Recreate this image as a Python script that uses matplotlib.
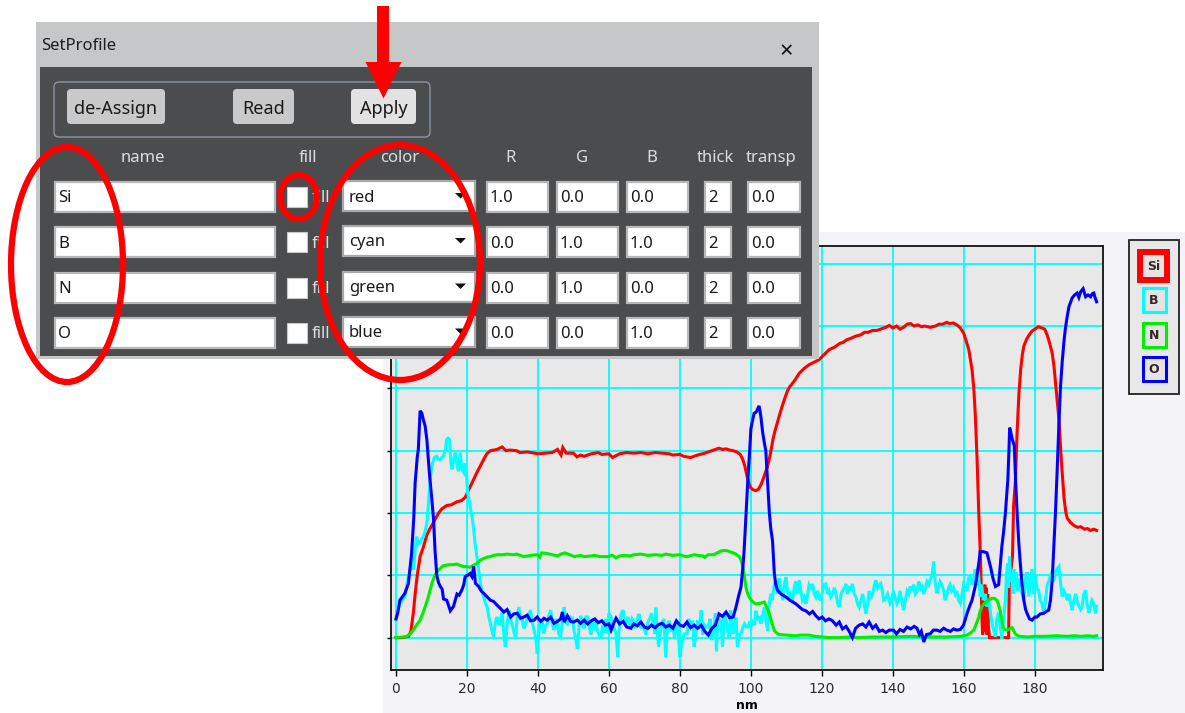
import matplotlib
matplotlib.use('Agg')
import matplotlib.pyplot as plt
from matplotlib.patches import Rectangle, FancyBboxPatch, Ellipse, Polygon

# ---- depth profile data (x in nm, y in grid units) ----
si_profile = [(0,0),(2,0),(3.5,0.02),(4.2,0.1),(4.9,0.4),(5.4,0.7),(6.0,1.0),(6.8,1.3),(7.7,1.45),(8.7,1.65),
    (9.6,1.75),(10.6,1.85),(12.0,2.0),(13.0,2.07),(14.3,2.12),(15.5,2.13),(17.2,2.18),(18.5,2.2),(19.5,2.25),
    (20.9,2.42),(22.0,2.55),(22.8,2.65),(24.0,2.78),(24.7,2.86),(25.6,2.95),(26.6,3.0),(27.5,3.01),(28.5,3.02),
    (29.9,3.06),(31,3.0),(32,3.01),(34,3.0),(35,2.97),(37,2.98),(39,2.96),(40,2.95),(42,2.96),(44,2.97),
    (45.5,3.02),(46.5,2.93),(47,3.05),(48,2.96),(50,2.96),(51,2.9),(52,2.93),(53,2.91),(55,2.95),(57,2.97),
    (58,2.94),(60,2.95),(61,2.89),(62,2.92),(63,2.95),(65,2.97),(67,2.96),(69,2.97),(71,2.95),(73,2.97),
    (75,2.96),(77,2.95),(78,2.93),(80,2.94),(81,2.91),(82,2.9),(83,2.89),(84,2.91),(85,2.93),(87,2.96),
    (89,3.0),(90,3.02),(91,3.04),(92,3.02),(93,3.03),(94,3.01),(95,3.0),(96,2.98),(97,2.94),(97.7,2.86),
    (98.3,2.75),(98.8,2.62),(99.4,2.48),(100,2.4),(100.7,2.37),(101.4,2.36),(102.1,2.38),(102.8,2.45),
    (103.3,2.52),(103.8,2.6),(104.4,2.7),(105,2.82),(105.6,2.98),(106.2,3.18),(106.8,3.32),(107.5,3.46),
    (108.2,3.6),(108.9,3.73),(109.6,3.85),(110.3,3.96),(111,4.03),(111.7,4.08),(112.6,4.15),(113.6,4.24),
    (115,4.32),(116.4,4.38),(117.8,4.42),(119.2,4.46),(120.6,4.54),(122,4.62),(123.5,4.66),(125,4.72),
    (126,4.74),(127,4.78),(128,4.8),(129.6,4.84),(131,4.86),(132,4.9),(133,4.9),(134.3,4.93),(135.5,4.93),
    (136.5,4.95),(138,4.98),(139,5.01),(140,4.97),(141,5.0),(142,4.95),(143,4.98),(144,5.03),(145,5.04),
    (146,5.0),(147,5.02),(148,4.99),(149,5.0),(150.5,4.98),(152,5.0),(153,5.03),(154,5.03),(155.2,5.06),
    (156,5.04),(157,5.05),(158,5.02),(159,4.97),(160,4.88),(160.7,4.75),(161.4,4.62),(162.3,4.3),(162.8,4.0),
    (163.2,3.6),(163.7,2.9),(164.2,2.0),(164.6,1.4),(164.9,0.8),(165.1,0.3),(165.3,0.05),(165.5,0.6),
    (165.7,0.2),(165.9,0.85),(166.1,0.1),(166.3,0.8),(166.5,0.05),(166.7,0.7),(166.9,0.2),(167.2,0.0),
    (169,0.0),(171,0.0),(172.6,0.0),(172.8,0.9),(173.3,1.1),(173.7,1.3),(174.0,2.1),(174.5,2.5),(175.0,3.3),
    (175.5,3.9),(176.0,4.3),(176.5,4.55),(176.9,4.68),(177.6,4.78),(178.3,4.85),(179.2,4.92),(180.2,4.96),
    (181,4.99),(182,4.97),(182.8,4.95),(183.5,4.85),(184.2,4.72),(184.9,4.56),(185.4,4.35),(185.8,4.1),
    (186.3,3.8),(186.8,3.5),(187.2,3.1),(187.5,2.8),(187.9,2.5),(188.2,2.25),(188.7,2.02),(189.1,1.92),
    (190,1.85),(191,1.8),(192,1.77),(192.9,1.78),(194,1.74),(194.8,1.75),(195.7,1.72),(196.6,1.74),(197.4,1.72)]

b_profile = [(0,0.28),(0.5,0.42),(1.1,0.55),(1.8,0.6),(2.5,0.66),(3.0,0.8),(3.5,0.98),(4.0,1.1),(4.4,1.3),
    (4.9,1.09),(5.4,1.4),(5.8,1.62),(6.3,1.5),(6.8,1.52),(7.2,1.58),(7.7,1.62),(8.2,1.7),(8.7,1.84),(9.1,2.1),
    (9.6,2.54),(10.1,2.75),(10.6,2.86),(11.0,2.9),(11.5,2.91),(12.0,2.86),(12.5,2.86),(13.0,2.9),(13.4,2.92),
    (13.9,3.0),(14.3,3.18),(14.7,3.2),(15.1,3.18),(15.5,2.8),(15.8,2.7),(16.2,2.85),(16.7,2.97),(17.1,2.8),
    (17.6,2.67),(18.1,2.97),(18.6,2.7),(19.1,2.65),(19.5,2.8),(19.9,2.6),(20.2,2.32),(20.5,2.25),(20.9,2.11),
    (21.4,1.95),(21.9,1.73),(22.3,1.5),(22.8,1.3),(23.3,1.08),(23.8,0.87),(24.2,0.75),(24.7,0.66),(25.2,0.55),
    (25.7,0.49),(26.1,0.35),(26.6,0.23),(27.0,0.12),(27.5,0.01),(28.0,0.25),(28.5,0.33),(29.0,0.2),(29.4,0.27),
    (29.9,0.4),(30.4,0.05),(30.8,-0.15),(31.3,0.2),(31.8,0.44),(32.3,0.3),(32.7,0.22),(33.2,0.1),(33.7,-0.02),
    (34.1,0.3),(34.6,0.49),(35.1,0.3),(35.6,0.28),(36.0,0.15),(36.5,0.22),(37.0,0.3),(37.5,0.38),(37.9,0.44),
    (38.4,0.25),(38.9,0.12),(39.4,0.0),(39.8,-0.26),(40.3,0.1),(40.8,0.22),(41.2,0.25),(41.7,0.06),(42.2,0.2),
    (42.6,0.22),(43.1,0.35),(43.6,0.44),(44.0,0.25),(44.5,0.12),(45.0,0.3),(45.5,0.22),(45.9,0.05),(46.4,0.01),
    (46.9,0.3),(47.4,0.49),(47.8,0.25),(48.3,0.22),(48.8,0.35),(49.2,0.28),(49.7,0.33),(50.2,0.1),(50.6,0.0),
    (51.1,-0.18),(51.6,0.2),(52.0,0.35),(52.5,0.22),(53.0,0.15),(53.5,0.33),(54.0,0.33),(54.4,0.2),(54.9,0.05),
    (55.4,0.28),(55.8,0.12),(56.3,0.25),(56.8,0.1),(57.2,0.05),(57.7,-0.02),(58.2,0.2),(58.6,0.08),(59.1,0.3),
    (59.6,0.07),(60.0,0.39),(60.6,0.33),(61.0,0.2),(61.5,0.15),(62.0,0.06),(62.5,-0.31),(62.8,0.1),(63.4,0.38),
    (64.0,0.44),(64.5,0.2),(65.0,0.25),(65.3,0.33),(65.7,0.27),(66.0,0.17),(66.5,0.3),(67,0.25),(67.5,0.15),
    (68,0.3),(68.5,0.38),(69,0.15),(69.5,0.2),(70,0.14),(70.4,0.05),(71,0.25),(71.5,0.3),(72,0.39),(72.5,0.2),
    (73,0.06),(73.2,0.48),(73.6,0.1),(74,-0.15),(74.5,0.1),(75,0.25),(75.5,0.3),(76,-0.32),(76.5,0.2),(77,0.27),
    (77.5,0.1),(78,0.17),(78.5,0.0),(79,0.25),(79.5,0.1),(80,-0.31),(80.5,-0.1),(81.2,0.06),(82,0.06),
    (82.5,0.3),(83,0.2),(83.6,0.27),(84,-0.15),(84.5,0.05),(85,0.28),(85.5,0.15),(86,0.44),(86.4,0.05),(87,0.2),
    (87.5,0.17),(88,0.17),(88.5,0.3),(89,-0.04),(89.5,0.1),(90,0.39),(90.3,-0.22),(90.6,0.2),(91,0.12),
    (91.5,0.3),(92,-0.15),(92.5,0.38),(93,0.28),(93.5,0.1),(93.9,0.0),(94.3,0.44),(95,0.06),(95.4,0.2),
    (95.8,0.32),(96.2,-0.15),(96.8,0.05),(97.2,0.06),(97.7,0.16),(98.2,0.22),(98.7,0.17),(99.2,0.17),(99.5,0.22),
    (100,0.17),(100.5,0.25),(101,0.2),(101.4,0.43),(102,0.3),(102.5,0.32),(102.8,0.22),(103.3,0.35),(103.8,0.49),
    (104.2,0.3),(104.7,0.11),(105.1,0.5),(105.6,0.7),(106,0.6),(106.5,0.82),(107,0.92),(107.5,0.7),(108,0.95),
    (108.4,0.8),(109,0.6),(109.4,0.85),(109.9,0.97),(110.3,0.75),(110.8,0.65),(111.2,0.7),(111.7,0.59),
    (112.2,0.8),(112.6,0.9),(113.1,0.7),(113.6,0.92),(114.1,0.75),(114.5,0.6),(115,0.65),(115.5,0.54),(116,0.7),
    (116.4,0.85),(116.9,0.8),(117.4,0.86),(117.9,0.7),(118.3,0.65),(118.8,0.75),(119.2,0.65),(119.7,0.59),
    (120.2,0.75),(120.6,0.85),(121.1,0.86),(121.6,0.7),(122,0.75),(122.5,0.65),(123,0.7),(123.5,0.8),(124,0.7),
    (124.4,0.55),(124.9,0.49),(125.4,0.7),(125.8,0.75),(126.3,0.8),(126.8,0.86),(127.2,0.7),(127.7,0.8),
    (128.1,0.78),(128.6,0.86),(129.1,0.7),(129.6,0.65),(130,0.55),(130.5,0.49),(131,0.6),(131.5,0.7),(131.9,0.55),
    (132.4,0.38),(132.9,0.55),(133.3,0.75),(133.8,0.65),(134.3,0.7),(134.8,0.85),(135.2,0.92),(135.7,0.8),
    (136.2,0.85),(136.6,0.87),(137,0.75),(137.4,0.6),(137.8,0.62),(138.5,0.7),(139.2,0.55),(139.6,0.6),
    (140.2,0.75),(140.6,0.65),(141.1,0.55),(141.5,0.6),(142,0.75),(142.5,0.6),(143,0.44),(143.5,0.6),(144,0.75),
    (144.5,0.7),(144.9,0.82),(145.4,0.75),(145.9,0.85),(146.3,0.7),(146.8,0.74),(147.3,0.9),(147.8,0.8),
    (148.2,0.85),(148.7,0.7),(149.2,0.8),(149.6,0.9),(150.1,0.85),(150.5,0.93),(151,1.0),(151.5,1.22),(151.9,0.9),
    (152.4,0.71),(152.9,0.8),(153.3,0.9),(153.8,0.85),(154.3,0.75),(154.7,0.6),(155.2,0.68),(155.7,0.8),
    (156.1,0.85),(156.6,0.75),(157.1,0.8),(157.6,0.7),(158,0.75),(158.5,0.6),(159,0.55),(159.5,0.7),(159.9,0.85),
    (160.4,0.8),(160.9,0.75),(161.3,0.95),(161.8,0.98),(162.3,0.85),(162.7,0.9),(163.2,1.1),(163.6,0.85),
    (164.1,1.05),(164.6,0.66),(165.0,0.85),(165.5,0.6),(166,0.7),(166.5,0.5),(167,0.6),(167.5,0.39),(168,0.2),
    (168.5,0.1),(168.9,0.01),(169.3,0.3),(169.8,0.4),(170.2,0.2),(170.7,-0.02),(171.2,0.3),(171.7,0.6),(172,1.0),
    (172.3,1.19),(172.6,0.8),(172.9,1.3),(173.2,0.9),(173.6,1.0),(173.8,0.7),(174.1,1.1),(174.4,0.8),(174.7,1.05),
    (175,0.75),(175.4,0.95),(175.9,0.85),(176.4,0.7),(176.9,0.6),(177.4,0.95),(177.8,1.05),(178.3,0.66),
    (178.8,0.9),(179.2,1.1),(179.7,0.7),(180.1,1.0),(180.6,0.8),(181.1,0.75),(181.5,0.6),(182,0.55),(182.5,0.39),
    (183,0.6),(183.5,0.85),(183.9,0.9),(184.4,1.0),(184.9,1.05),(185.3,0.9),(185.8,1.05),(186.3,1.1),(186.8,1.14),
    (187.2,0.9),(187.7,0.66),(188.2,0.75),(188.6,0.7),(189.1,0.6),(189.6,0.7),(190.1,0.55),(190.5,0.44),(191,0.6),
    (191.5,0.7),(191.9,0.6),(192.4,0.5),(192.9,0.45),(193.3,0.5),(193.8,0.7),(194.3,0.76),(194.7,0.55),
    (195.2,0.4),(195.7,0.5),(196.1,0.6),(196.6,0.55),(197.1,0.39),(197.4,0.5)]

n_profile = [(0,0),(2,0.01),(3,0.02),(4,0.06),(4.9,0.12),(5.8,0.2),(6.8,0.28),(7.5,0.38),(8.2,0.49),(9.0,0.63),
    (9.6,0.76),(10.3,0.9),(11,1.0),(11.7,1.07),(12.5,1.11),(13.2,1.15),(13.9,1.16),(15,1.17),(16,1.17),(17.2,1.18),
    (18,1.16),(19,1.14),(20,1.14),(20.9,1.13),(21.8,1.16),(22.8,1.19),(23.7,1.24),(24.7,1.27),(25.6,1.29),
    (26.6,1.3),(27.5,1.32),(28.5,1.33),(30,1.33),(31.3,1.34),(33,1.33),(34,1.34),(36,1.3),(37,1.31),(38,1.32),
    (39.8,1.33),(40.5,1.29),(41,1.36),(42.6,1.35),(44,1.33),(45.5,1.31),(46.5,1.34),(47.5,1.36),(49,1.33),
    (50.2,1.3),(52,1.32),(53,1.3),(54.9,1.31),(56,1.32),(57.5,1.3),(59.6,1.3),(61,1.32),(62,1.28),(63,1.31),
    (64.3,1.32),(66,1.31),(67,1.33),(69,1.34),(71,1.32),(73,1.33),(75,1.32),(76,1.34),(78,1.32),(80,1.33),
    (81,1.31),(82,1.3),(84,1.33),(85,1.32),(86.5,1.31),(87,1.29),(88,1.33),(89.5,1.33),(90.5,1.36),(91.5,1.39),
    (92.5,1.4),(93.5,1.39),(94.5,1.37),(95.5,1.35),(96.7,1.3),(97.2,1.25),(97.7,1.14),(98.2,0.98),(98.6,0.81),
    (99.0,0.72),(99.5,0.65),(100.4,0.58),(101.4,0.54),(102.5,0.55),(103.8,0.57),(104.5,0.48),(105.2,0.38),
    (105.9,0.24),(106.6,0.11),(107.3,0.07),(108,0.05),(110,0.04),(112.7,0.03),(114,0.04),(116.4,0.04),(118,0.02),
    (120,0.01),(122,0.0),(125,0.0),(128,0.01),(130,0.0),(135,0.01),(140,0.01),(145,0.02),(150,0.01),(155,0.01),
    (159,0.02),(160.9,0.04),(162,0.08),(162.8,0.12),(163.5,0.22),(164.2,0.33),(164.6,0.43),(165.1,0.5),
    (165.8,0.55),(166.5,0.58),(167.2,0.61),(167.9,0.63),(168.6,0.63),(169.3,0.6),(169.8,0.52),(170.2,0.44),
    (170.6,0.3),(171,0.17),(171.6,0.13),(172.2,0.12),(172.9,0.14),(173.6,0.16),(174.1,0.1),(174.5,0.06),
    (175.2,0.03),(175.9,0.02),(178,0.01),(180,0.02),(183,0.02),(186,0.03),(189,0.02),(191,0.03),(193,0.02),
    (195,0.03),(196.5,0.02),(197.4,0.03)]

o_profile = [(0,0.3),(0.5,0.4),(1.1,0.6),(2.5,0.71),(3.5,0.87),(4.4,1.35),(5.0,1.9),(5.4,2.48),(6.0,2.9),
    (6.3,3.02),(6.8,3.64),(7.3,3.6),(7.7,3.5),(8.2,3.4),(8.7,3.18),(9.4,2.65),(10.1,2.22),(10.6,1.89),(11.0,1.4),
    (11.5,1.0),(12.0,0.88),(12.5,0.82),(13.0,0.78),(13.4,0.62),(14.3,0.6),(14.8,0.52),(15.3,0.43),(16.2,0.5),
    (17.2,0.7),(17.8,0.68),(18.6,0.77),(19.1,0.85),(19.5,0.98),(20.2,1.0),(20.9,1.03),(21.4,0.98),(21.9,1.14),
    (22.4,0.87),(23.3,0.82),(24.0,0.75),(24.7,0.71),(25.6,0.66),(26.6,0.6),(27.5,0.58),(28.5,0.52),(29.4,0.47),
    (30.4,0.41),(31.3,0.45),(32.3,0.33),(33.2,0.38),(34.2,0.39),(35.1,0.31),(36,0.33),(37,0.36),(37.9,0.27),
    (38.9,0.28),(39.8,0.33),(40.8,0.26),(41.7,0.31),(42.6,0.28),(43.6,0.33),(44.5,0.23),(45.5,0.26),(46.4,0.3),
    (46.9,0.41),(47.4,0.25),(48.3,0.35),(49.2,0.26),(50,0.25),(51.1,0.28),(52,0.23),(53,0.28),(54,0.22),(55,0.27),
    (56,0.3),(57,0.24),(58,0.27),(59,0.2),(60,0.22),(60.6,0.12),(61.5,0.25),(62,0.31),(63,0.22),(64,0.26),
    (65,0.17),(66.2,0.15),(67,0.22),(68,0.19),(69,0.25),(70,0.17),(71,0.15),(72,0.2),(73,0.16),(74,0.21),
    (75,0.23),(76,0.17),(77,0.2),(78,0.15),(79,0.27),(80,0.2),(81,0.18),(82,0.25),(83,0.16),(84,0.2),(85,0.15),
    (86,0.2),(87,0.1),(88,0.04),(89,0.15),(90,0.2),(91,0.38),(92,0.34),(93,0.41),(94,0.32),(95,0.33),(95.8,0.49),
    (96.5,0.66),(97.2,0.81),(97.7,1.1),(98.1,1.41),(98.6,1.95),(99.1,2.49),(99.6,2.95),(100,3.35),(100.5,3.5),
    (100.9,3.6),(101.5,3.62),(102.3,3.72),(102.8,3.55),(103.3,3.3),(103.8,3.12),(104.2,3.0),(104.7,2.5),
    (105.2,2.0),(105.6,1.75),(106.1,1.55),(106.6,1.03),(107.0,0.85),(107.5,0.76),(108.5,0.7),(109.9,0.65),
    (111,0.6),(112.7,0.54),(113.5,0.5),(114.5,0.45),(115.5,0.43),(116.5,0.38),(117.4,0.42),(118.3,0.35),
    (119.2,0.3),(120.1,0.33),(121,0.27),(122,0.3),(123,0.27),(124,0.2),(124.9,0.25),(125.8,0.14),(126.8,0.18),
    (127.7,0.1),(128.6,0.0),(129.5,0.15),(130.5,0.2),(131.5,0.22),(132.4,0.17),(133.3,0.25),(134.3,0.15),
    (135.2,0.2),(136.2,0.1),(137.1,0.12),(138,0.08),(139,0.12),(140.2,0.12),(141,0.06),(142,0.13),(143,0.1),
    (144,0.17),(145,0.14),(146,0.18),(146.8,0.15),(147.5,0.05),(148,0.1),(148.7,-0.07),(149.5,0.05),(150.5,0.06),
    (151.4,0.12),(152.4,0.12),(153.3,0.1),(154.3,0.15),(155.2,0.12),(156.2,0.1),(157.1,0.14),(158,0.12),
    (159,0.13),(159.9,0.2),(160.9,0.39),(161.6,0.5),(162.3,0.6),(163.2,0.82),(164.2,1.19),(164.6,1.38),
    (165.5,1.38),(166.5,1.36),(167,1.25),(167.5,1.14),(168.2,0.95),(168.9,0.82),(169.8,0.85),(170.7,1.46),
    (171.2,1.7),(171.7,2.0),(172.1,2.3),(172.4,2.54),(172.7,3.0),(172.9,3.37),(173.2,3.3),(173.6,3.19),
    (174.2,3.08),(174.6,2.5),(175,2.0),(175.5,1.5),(175.9,1.19),(176.4,0.85),(176.9,0.6),(177.4,0.45),
    (177.8,0.39),(178.5,0.3),(179.2,0.28),(180,0.33),(180.6,0.33),(181.5,0.38),(182.5,0.39),(183.2,0.42),
    (183.9,0.44),(184.4,0.6),(184.9,0.93),(185.3,1.4),(185.8,2.0),(186.3,2.7),(186.8,3.46),(187.2,4.0),
    (187.7,4.42),(188.2,4.75),(188.6,4.96),(189.1,5.15),(189.6,5.31),(190.5,5.45),(191.2,5.5),(191.9,5.53),
    (192.4,5.46),(192.9,5.55),(193.6,5.6),(194.3,5.47),(195,5.5),(195.7,5.47),(196.2,5.52),(196.6,5.53),
    (197.0,5.45),(197.4,5.39)]

element_names = ['Si', 'B', 'N', 'O']
color_names = ['red', 'cyan', 'green', 'blue']
rgb_values = [(1.0, 0.0, 0.0), (0.0, 1.0, 1.0), (0.0, 1.0, 0.0), (0.0, 0.0, 1.0)]
thick_values = [2, 2, 2, 2]
transp_values = [0.0, 0.0, 0.0, 0.0]
x_ticks = [0, 20, 40, 60, 80, 100, 120, 140, 160, 180]
headers = ['name', 'fill', 'color', 'R', 'G', 'B', 'thick', 'transp']
buttons = ['de-Assign', 'Read', 'Apply']

profiles = [si_profile, b_profile, n_profile, o_profile]
line_colors = ['#ff0000', '#00ffff', '#00ee00', '#0000ff']

W, H = 1185, 713
fig = plt.figure(figsize=(W / 100, H / 100), dpi=100)
fig.patch.set_facecolor('white')

def pixel_axes(z):
    a = fig.add_axes([0, 0, 1, 1])
    a.set_xlim(0, W)
    a.set_ylim(H, 0)
    a.axis('off')
    a.set_zorder(z)
    a.patch.set_alpha(0)
    return a

# background panel behind the plot + legend
bg = pixel_axes(0)
bg.add_patch(Rectangle((383, 232), W - 383, H - 232, fc='#f4f4f8', ec='none'))

# ---- the profile plot ----
ax = fig.add_axes([391 / W, (H - 670) / H, (1103 - 391) / W, (670 - 245.7) / H])
ax.set_zorder(1)
ax.set_facecolor('#e8e8e8')
for prof, c in zip(profiles, line_colors):
    xs = [p[0] for p in prof]
    ys = [p[1] for p in prof]
    ax.plot(xs, ys, color=c, lw=2.2, solid_joinstyle='miter')
ax.set_xlim(-1.4, 199.2)
ax.set_ylim(-0.52, 6.29)
ax.set_xticks(x_ticks)
ax.set_yticks(range(0, 7))
ax.set_yticklabels([])
ax.grid(True, color='#00ffff', lw=1.3)
ax.set_axisbelow(True)
ax.tick_params(axis='x', length=4, width=1, labelsize=10, labelcolor='#2a2a2a', pad=4.5)
ax.tick_params(axis='y', length=3, width=1)
for sp in ax.spines.values():
    sp.set_linewidth(1.3)
    sp.set_color('#111111')
ax.set_xlabel('nm', fontsize=9, fontweight='bold', labelpad=2)

# legend boxes
bg.add_patch(Rectangle((1129, 240), 50, 154, fc='#e8e8e8', ec='#222222', lw=1.3))
leg_boxes = [(1140, 252, 1167, 280, 4.3), (1142.5, 287.5, 1165.5, 311.5, 2.2),
             (1142.5, 322.5, 1165.5, 346.5, 2.2), (1142.5, 356.5, 1165.5, 380.5, 2.2)]
for name, c, (x0, y0, x1, y1, lw) in zip(element_names, line_colors, leg_boxes):
    bg.add_patch(Rectangle((x0, y0), x1 - x0, y1 - y0, fc='#e4e4e4', ec=c, lw=lw))
    bg.text((x0 + x1) / 2, (y0 + y1) / 2 + 1, name, ha='center', va='center',
            fontsize=9, fontweight='bold', color='#3a2424')

# ---- the SetProfile dialog ----
ov = pixel_axes(2)
ui = dict(family=['Noto Sans', 'DejaVu Sans'])
dy = 1.5  # small downward shift for text centring
ov.add_patch(Rectangle((36, 22), 783, 337, fc='#c5c7c9', ec='none', zorder=1))
ov.add_patch(Rectangle((40, 67), 772, 289, fc='#4b4c4e', ec='none', zorder=2))
ov.text(41, 44 + dy, 'SetProfile', ha='left', va='center', fontsize=12, color='#1e1e1e', zorder=3, **ui)
ov.text(786, 51 + dy, '\u00d7', ha='center', va='center', fontsize=17, color='#111111', zorder=3, **ui)

ov.add_patch(FancyBboxPatch((54, 82), 376, 55, boxstyle='round,pad=0,rounding_size=5',
                            fc='none', ec='#8a94a3', lw=1, zorder=3))
btn_spans = [(67, 165, '#c9c9c9'), (233, 294, '#c9c9c9'), (351, 416, '#e2e2e2')]
for label, (x0, x1, fc) in zip(buttons, btn_spans):
    ov.add_patch(FancyBboxPatch((x0, 89), x1 - x0, 35, boxstyle='round,pad=0,rounding_size=4',
                                fc=fc, ec='none', zorder=3))
    ov.text((x0 + x1) / 2, 107 + dy, label, ha='center', va='center', fontsize=13, color='#1a1a1a',
            zorder=4, **ui)

header_x = [143, 308, 400, 511, 582, 652, 715, 771]
for h, hx in zip(headers, header_x):
    ov.text(hx, 157 + dy, h, ha='center', va='center', fontsize=12, color='#dcdcdc', zorder=3, **ui)

def field(x0, x1, yc, text, tx, ec='#b8b8b8'):
    ov.add_patch(Rectangle((x0, yc - 15), x1 - x0, 30, fc='white', ec=ec, lw=1.6, zorder=3))
    if text is not None:
        ov.text(tx, yc + dy, text, ha='left', va='center', fontsize=12, color='#1a1a1a', zorder=4, **ui)

row_y = [197, 242, 287.5, 332.5]
for i, yc in enumerate(row_y):
    field(55, 275, yc, element_names[i], 58)
    ov.add_patch(Rectangle((287, yc - 10), 20, 20, fc='white', ec='#c8c8c8', lw=0.8, zorder=3))
    ov.text(312, yc + dy, 'fill', ha='left', va='center', fontsize=12, color='#dcdcdc', zorder=3, **ui)
    field(343, 475, yc - 1, color_names[i], 349, ec='#a8a8a8')
    ov.add_patch(Polygon([(455, yc - 4), (466, yc - 4), (460.5, yc + 1.5)], closed=True,
                         fc='#111111', ec='none', zorder=4))
    r, g, b = rgb_values[i]
    field(487, 548, yc, f'{r:.1f}', 490)
    field(557, 618, yc, f'{g:.1f}', 560)
    field(627, 688, yc, f'{b:.1f}', 630)
    field(705, 731, yc, str(thick_values[i]), 708)
    field(748, 800, yc, f'{transp_values[i]:.1f}', 751)

# red annotation marks
red = '#ff0000'
ov.add_patch(Rectangle((377, 6), 12, 57, fc=red, ec='none', zorder=10))
ov.add_patch(Polygon([(365.5, 62), (401.5, 62), (383.5, 98.5)], closed=True, fc=red, ec='none', zorder=10))
for cx, cy, w, h in [(67, 264.5, 112, 235), (298.5, 197, 37, 44), (400, 262.5, 160, 235)]:
    ov.add_patch(Ellipse((cx, cy), w, h, fc='none', ec=red, lw=4.5, zorder=10))

fig.savefig('out.png', dpi=100)
